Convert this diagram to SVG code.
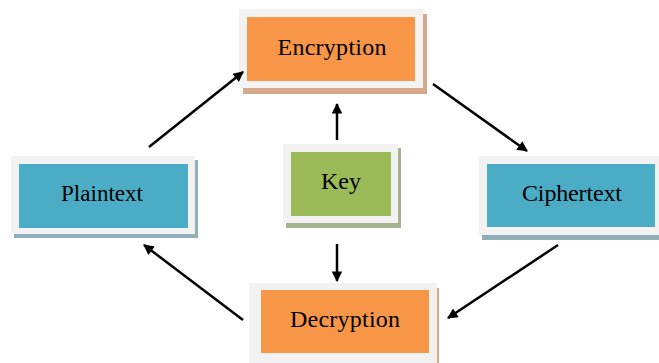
<svg xmlns="http://www.w3.org/2000/svg" width="659" height="363" viewBox="0 0 659 363">
  <style>
    .frame { fill: #F2F2F2; }
    .orange { fill: #F79646; }
    .blue { fill: #4BACC6; }
    .green { fill: #9BBB59; }
    .sh-orange { fill: #D5A88A; }
    .sh-blue { fill: #91AFB8; }
    .sh-green { fill: #A8B291; }
    .label { font-family: "Liberation Serif", "Times New Roman", serif; font-size: 24px; fill: #000; text-anchor: middle; }
    .conn { stroke: #000; stroke-width: 2.5; fill: none; marker-end: url(#arrow); }
  </style>
  <defs>
    <marker id="arrow" viewBox="0 0 10 10" refX="9" refY="5" markerWidth="4.8" markerHeight="4.2" orient="auto" markerUnits="strokeWidth">
      <path d="M0,0 L10,5 L0,10 Z" fill="#000"/>
    </marker>
  </defs>
  <rect width="659" height="363" fill="#FFFFFF"/>

  <g id="encryption">
    <rect class="sh-orange" x="243" y="14" width="184" height="80"/>
    <rect class="frame" x="239" y="9" width="184" height="79"/>
    <rect class="orange" x="247" y="17" width="168" height="64"/>
    <text class="label" x="332" y="55" textLength="109" lengthAdjust="spacing">Encryption</text>
  </g>

  <g id="plaintext">
    <rect class="sh-blue" x="14" y="160" width="184" height="78"/>
    <rect class="frame" x="11" y="156" width="184" height="78"/>
    <rect class="blue" x="19" y="164" width="169" height="64"/>
    <text class="label" x="102" y="201" textLength="82" lengthAdjust="spacingAndGlyphs">Plaintext</text>
  </g>

  <g id="key">
    <rect class="sh-green" x="286" y="148" width="115" height="80"/>
    <rect class="frame" x="283" y="144" width="115" height="79"/>
    <rect class="green" x="291" y="152" width="100" height="64"/>
    <text class="label" x="341" y="189" textLength="40" lengthAdjust="spacing">Key</text>
  </g>

  <g id="ciphertext">
    <rect class="sh-blue" x="482" y="160" width="180" height="80"/>
    <rect class="frame" x="479" y="156" width="180" height="79"/>
    <rect class="blue" x="487" y="164" width="168" height="63"/>
    <text class="label" x="572" y="201" textLength="100" lengthAdjust="spacing">Ciphertext</text>
  </g>

  <g id="decryption">
    <rect class="sh-orange" x="253" y="288" width="186" height="80"/>
    <rect class="frame" x="249" y="283" width="188" height="80"/>
    <rect class="orange" x="261" y="290" width="168" height="63"/>
    <text class="label" x="345" y="327" textLength="110" lengthAdjust="spacing">Decryption</text>
  </g>

  <g id="connectors">
    <line class="conn" x1="149" y1="147" x2="243" y2="72"/>
    <line class="conn" x1="433" y1="84" x2="527" y2="151"/>
    <line class="conn" x1="558" y1="245" x2="448" y2="318"/>
    <line class="conn" x1="243" y1="320" x2="144" y2="245"/>
    <line class="conn" x1="337" y1="140" x2="337" y2="104"/>
    <line class="conn" x1="337" y1="244" x2="337" y2="281"/>
  </g>
</svg>
